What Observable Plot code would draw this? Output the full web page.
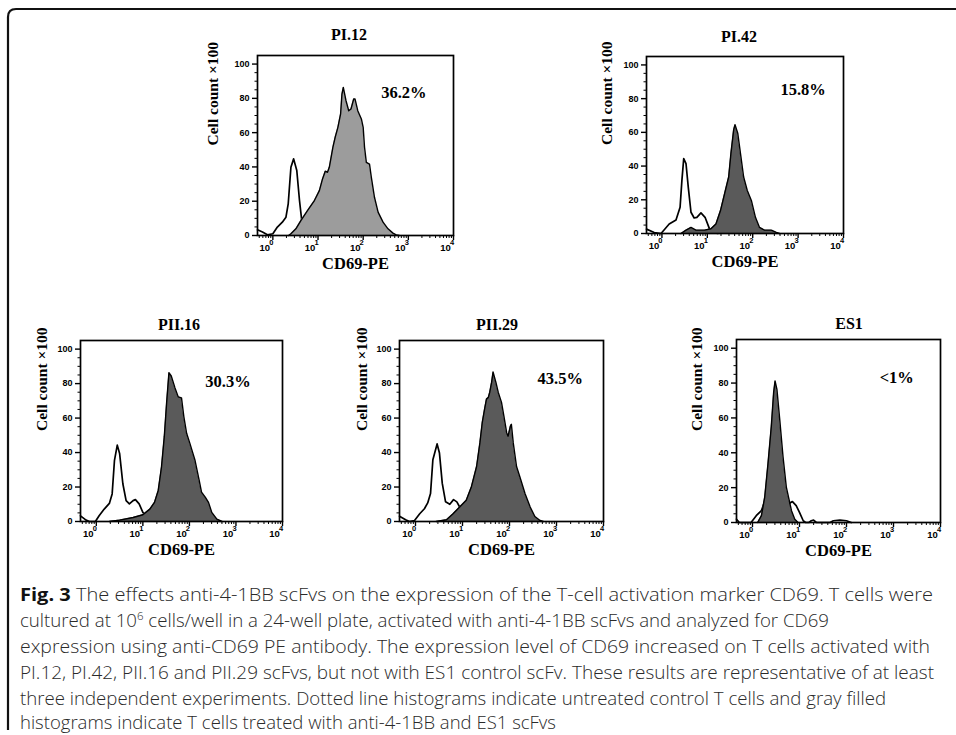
<!DOCTYPE html>
<html><head><meta charset="utf-8">
<script src="https://cdn.jsdelivr.net/npm/d3@7"></script>
<script src="https://cdn.jsdelivr.net/npm/@observablehq/plot@0.6"></script>
<style>
html,body{margin:0;padding:0;background:#fff;}
#root{position:relative;width:956px;height:735px;overflow:hidden;background:#fff;}
.panel{position:absolute;}
.ptitle{position:absolute;font-family:"Liberation Serif","Times New Roman",serif;font-weight:bold;font-size:16px;transform:translate(-50%,-50%);white-space:nowrap;color:#000;}
#cap{position:absolute;left:0;top:0;}
</style></head><body><div id="root"></div>
<script>
// ---------- DATA (x = log10 CD69-PE intensity, y = cell count x100) ----------
const panelNames = ["PI.12", "PI.42", "PII.16", "PII.29", "ES1"];
const percentLabels = ["36.2%", "15.8%", "30.3%", "43.5%", "<1%"];

const pi12CtrlLog   = [-0.34,-0.23,-0.12,0,0.1,0.21,0.29,0.34,0.4,0.46,0.53,0.59,0.64,0.7,0.75,0.85,0.95,1.05,1.15];
const pi12CtrlCount = [3.3,2,0.4,1,4.9,7.8,10.7,18.4,39.8,44.7,37.9,20.4,8.7,3.9,3,5,4,2,0.5];
const pi12FillLog   = [0.35,0.4,0.51,0.62,0.77,0.92,1.03,1.1,1.16,1.21,1.25,1.33,1.38,1.44,1.5,1.53,1.56,1.62,1.68,1.73,1.79,1.82,1.88,1.96,2.0,2.03,2.07,2.14,2.18,2.25,2.33,2.44,2.55,2.66,2.73,2.8];
const pi12FillCount = [0,1,3.9,8.7,14.6,20.4,26.2,33,37.5,36.9,39.8,51.5,57.3,63.1,70.9,82.5,86.4,78.6,72.8,73.8,79.6,79.6,72.8,68,63.1,51.5,42.7,41.7,34,22.3,13.6,7.8,3.9,1.4,0.4,0];

const pi42CtrlLog   = [-0.34,-0.17,-0.02,0.16,0.31,0.4,0.44,0.48,0.53,0.58,0.64,0.71,0.77,0.86,0.95,1.05,1.12,1.23];
const pi42CtrlCount = [2.6,0.6,0,5.6,8,15.6,31.5,44.5,41.5,27.5,12.6,9.2,9.6,12.2,9.6,2.6,0.6,0];
const pi42FillLog   = [0.42,0.53,0.64,0.75,0.94,1.08,1.19,1.29,1.38,1.47,1.52,1.58,1.61,1.67,1.73,1.8,1.88,1.97,2.06,2.15,2.26,2.41,2.52,2.59];
const pi42FillCount = [0,2,3.6,2,2,2.8,5.6,13.6,23.6,33.5,47.5,61.5,64.5,59.5,47.5,33.5,25.5,19.6,9.6,3.6,2,2,0.6,0];

const pii16CtrlLog   = [-0.35,-0.22,-0.15,-0.02,0.06,0.17,0.28,0.34,0.39,0.45,0.5,0.57,0.64,0.71,0.79,0.84,0.92,1.0,1.07,1.15];
const pii16CtrlCount = [3.3,0.8,0,0,3.3,7.2,10.5,16,35.5,44.3,39.5,21.9,12.1,10.2,12.1,12.7,10.2,5.3,3.3,1];
const pii16FillLog   = [0.28,0.5,0.79,1.0,1.15,1.25,1.33,1.4,1.46,1.51,1.56,1.61,1.69,1.76,1.83,1.88,1.94,2.01,2.12,2.21,2.26,2.34,2.41,2.48,2.59,2.7];
const pii16FillCount = [0,0.8,2.3,3.9,7.2,11.1,18,31.6,49.2,68.8,86.3,84.4,77.5,72.3,71.7,60.9,51.2,45.3,35.5,23.8,17,14.1,11.1,5.3,1.4,0];

const pii29CtrlLog   = [-0.34,-0.21,-0.13,-0.02,0.09,0.19,0.26,0.32,0.37,0.46,0.51,0.57,0.64,0.73,0.81,0.88,0.94,1.02,1.1];
const pii29CtrlCount = [3.1,1,0,0.6,4.5,7.4,10.8,16.2,35.8,45,39.7,22.1,11.4,10,12.7,11.4,8.4,4,1];
const pii29FillLog   = [0.44,0.66,0.8,0.94,1.08,1.19,1.3,1.37,1.42,1.47,1.51,1.55,1.58,1.62,1.65,1.71,1.76,1.83,1.88,1.94,1.97,2.02,2.04,2.08,2.15,2.22,2.33,2.44,2.54,2.65,2.72];
const pii29FillCount = [0,1,4.5,8.4,12.3,20.2,31.9,45.6,57.3,65.2,71,72,75,80.8,86.7,80.8,75,69.1,61.3,51.5,49.5,55.4,56.4,45.6,31.9,26,16.2,8.4,2.9,0.6,0];

const es1CtrlLog   = [-0.35,-0.28,-0.03,0.08,0.19,0.3,0.45,0.6,0.72,0.79,0.85,0.93,1.0,1.08,1.13,1.2,1.25,1.3,1.36,1.65,1.72,1.86,2.0,2.1];
const es1CtrlCount = [1.9,0,0,3.9,6.8,15,30,20,8.7,11,12,9.7,5.8,1,0,0,1,1.4,0,0,1,1.4,1,0];
const es1FillLog   = [0.11,0.19,0.26,0.33,0.4,0.45,0.48,0.52,0.58,0.65,0.72,0.83,0.9,0.97];
const es1FillCount = [0,3.9,14.5,33.8,55,74.5,81.2,76.4,59,37.7,20.3,6.8,1.9,0];

const ctrlLogs = [pi12CtrlLog, pi42CtrlLog, pii16CtrlLog, pii29CtrlLog, es1CtrlLog];
const ctrlCounts = [pi12CtrlCount, pi42CtrlCount, pii16CtrlCount, pii29CtrlCount, es1CtrlCount];
const fillLogs = [pi12FillLog, pi42FillLog, pii16FillLog, pii29FillLog, es1FillLog];
const fillCounts = [pi12FillCount, pi42FillCount, pii16FillCount, pii29FillCount, es1FillCount];

const xTickExponents = [0, 1, 2, 3, 4];
const yTickValues = [0, 20, 40, 60, 80, 100];

const captionLines = [
  ["Fig. 3", " The effects anti-4-1BB scFvs on the expression of the T-cell activation marker CD69. T cells were"],
  ["", "cultured at 10", "6", " cells/well in a 24-well plate, activated with anti-4-1BB scFvs and analyzed for CD69"],
  ["", "expression using anti-CD69 PE antibody. The expression level of CD69 increased on T cells activated with"],
  ["", "PI.12, PI.42, PII.16 and PII.29 scFvs, but not with ES1 control scFv. These results are representative of at least"],
  ["", "three independent experiments. Dotted line histograms indicate untreated control T cells and gray filled"],
  ["", "histograms indicate T cells treated with anti-4-1BB and ES1 scFvs"]
];

// ---------- LAYOUT ----------
const layout = [
  {left:257, top:55,  w:196, h:180, fill:"#9c9c9c", labLog:2.9,  labY:83, ylabDx:-44, tx:349, ty:35},
  {left:646, top:56,  w:197, h:177, fill:"#5a5a5a", labLog:3.11, labY:85, ylabDx:-39, tx:739, ty:37},
  {left:80,  top:340, w:202, h:181, fill:"#5a5a5a", labLog:2.83, labY:81, ylabDx:-38, tx:179, ty:325},
  {left:399, top:340, w:204, h:181, fill:"#5a5a5a", labLog:3.08, labY:83, ylabDx:-37, tx:497, ty:325},
  {left:736, top:339, w:204, h:183, fill:"#5a5a5a", labLog:3.07, labY:83, ylabDx:-39, tx:849, ty:324}
];
const capLineEnds = [933, 829, 930, 934, 886, 556];
const capBaselines = [601, 627, 653, 679, 705, 729];

const root = document.getElementById("root");
const ML = 60, MR = 12, MT = 8, MB = 45;
const xMin = 10 ** -0.34, xMax = 1e4;
const xMajor = xTickExponents.map(e => 10 ** e);
const xMinor = [];
for (let dec = -1; dec < 4; dec++) for (let k = 2; k <= 9; k++) { const v = k * 10 ** dec; if (v >= xMin && v <= xMax) xMinor.push(v); }
const yMinor = d3.range(0, 105, 5).filter(v => v % 20 !== 0);
const serif = "Liberation Serif, Times New Roman, serif";

layout.forEach((L, i) => {
  const ctrl = ctrlLogs[i].map((e, j) => ({x: 10 ** e, y: ctrlCounts[i][j]}));
  const filled = fillLogs[i].map((e, j) => ({x: 10 ** e, y: fillCounts[i][j]}));
  const plot = Plot.plot({
    width: L.w + ML + MR, height: L.h + MT + MB,
    marginLeft: ML, marginRight: MR, marginTop: MT, marginBottom: MB,
    x: {type: "log", domain: [xMin, xMax], clamp: true},
    y: {domain: [0, 105]},
    style: {fontFamily: "Liberation Sans, Arial, sans-serif", fontWeight: "bold", color: "#000", background: "transparent", overflow: "visible"},
    marks: [
      Plot.line(ctrl, {x: "x", y: "y", stroke: "#000", strokeWidth: 1.7}),
      Plot.areaY(filled, {x: "x", y: "y", fill: L.fill}),
      Plot.line(filled, {x: "x", y: "y", stroke: "#000", strokeWidth: 1.4}),
      Plot.frame({stroke: "#000", strokeWidth: 1.7}),
      Plot.axisY({ticks: yTickValues, tickSize: 5, tickPadding: 3, fontSize: 9, label: null, strokeWidth: 1.4}),
      Plot.axisY({ticks: yMinor, tickSize: 2.5, tickFormat: () => "", label: null}),
      Plot.axisX({ticks: xMinor, tickSize: 3, tickFormat: () => "", label: null}),
      Plot.axisX({ticks: xMajor, tickSize: 5, tickFormat: () => "", label: null, strokeWidth: 1.4}),
      Plot.text(xMajor, {x: d => d, frameAnchor: "bottom", text: () => "10", dy: 15, dx: -8, fontSize: 9.5}),
      Plot.text(xTickExponents, {x: e => 10 ** e, frameAnchor: "bottom", text: e => String(e), dy: 9, dx: -1.5, fontSize: 7.5}),
      Plot.text([percentLabels[i]], {x: () => 10 ** L.labLog, y: () => L.labY, text: d => d, fontFamily: serif, fontSize: 16.5}),
      Plot.text(["Cell count ×100"], {frameAnchor: "left", rotate: -90, dx: L.ylabDx, text: d => d, fontFamily: serif, fontSize: 15.5}),
      Plot.text(["CD69-PE"], {frameAnchor: "bottom", dy: 33, text: d => d, fontFamily: serif, fontSize: 16.5})
    ]
  });
  const div = document.createElement("div");
  div.className = "panel";
  div.style.left = (L.left - ML) + "px";
  div.style.top = (L.top - MT) + "px";
  div.appendChild(plot);
  root.appendChild(div);
  const t = document.createElement("div");
  t.className = "ptitle";
  t.style.left = L.tx + "px";
  t.style.top = L.ty + "px";
  t.textContent = panelNames[i];
  root.appendChild(t);
});

// caption + frame border
const NS = "http://www.w3.org/2000/svg";
const svg = document.createElementNS(NS, "svg");
svg.setAttribute("id", "cap");
svg.setAttribute("width", 956);
svg.setAttribute("height", 735);
const border = document.createElementNS(NS, "path");
border.setAttribute("d", "M8,730 V17 Q8,9 16,9 H956");
border.setAttribute("fill", "none");
border.setAttribute("stroke", "#111");
border.setAttribute("stroke-width", "2.2");
svg.appendChild(border);
captionLines.forEach((parts, i) => {
  const tx = document.createElementNS(NS, "text");
  tx.setAttribute("x", 20);
  tx.setAttribute("y", capBaselines[i]);
  tx.setAttribute("font-family", "'Open Sans', Lato, sans-serif");
  tx.setAttribute("font-weight", "300");
  tx.setAttribute("font-size", "18");
  tx.setAttribute("fill", "#2a2a2a");
  tx.setAttribute("textLength", capLineEnds[i] - 20);
  tx.setAttribute("lengthAdjust", "spacingAndGlyphs");
  parts.forEach((p, k) => {
    if (!p) return;
    const ts = document.createElementNS(NS, "tspan");
    ts.textContent = p;
    if (i === 0 && k === 0) { ts.setAttribute("font-weight", "bold"); ts.setAttribute("fill", "#111"); }
    if (i === 1 && k === 2) { ts.setAttribute("font-size", "11"); ts.setAttribute("dy", "-7"); }
    if (i === 1 && k === 3) { ts.setAttribute("dy", "7"); }
    tx.appendChild(ts);
  });
  svg.appendChild(tx);
});
root.appendChild(svg);
</script></body></html>
